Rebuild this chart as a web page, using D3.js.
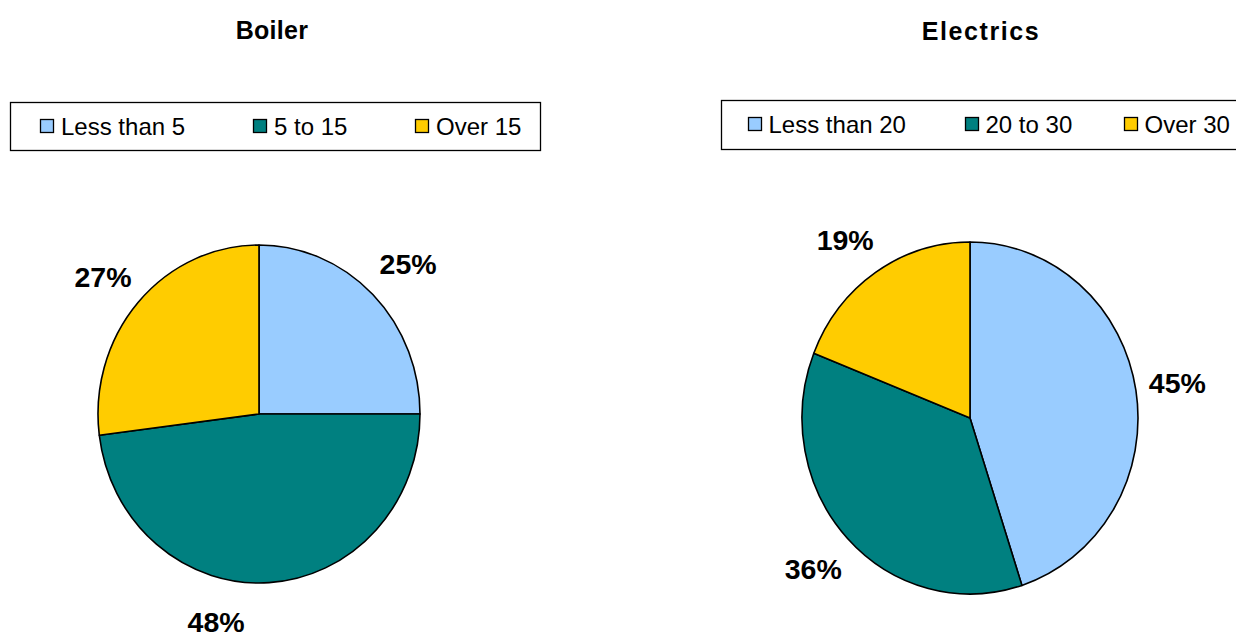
<!DOCTYPE html>
<html>
<head>
<meta charset="utf-8">
<script src="https://cdn.jsdelivr.net/npm/d3@7"></script>
<style>
  html, body { margin: 0; padding: 0; background: #fff; }
  svg { display: block; font-family: "Liberation Sans", Arial, sans-serif; }
</style>
</head>
<body>
<svg id="chart" width="1236" height="637"></svg>
<script>
// Age bands of heating systems (share of homes)
const boilerCategories = ["Less than 5", "5 to 15", "Over 15"];
const boilerValues = [25, 48, 27];

const electricsCategories = ["Less than 20", "20 to 30", "Over 30"];
const electricsValues = [45, 36, 19];

const sliceColors = ["#99CCFF", "#008080", "#FFCC00"];

const svg = d3.select("#chart");

// Layout for each panel
const panels = [
  {
    title: "Boiler", categories: boilerCategories, values: boilerValues,
    titleX: 272, titleY: 39, titleSpacing: 0.3,
    legend: { x: 10.5, y: 102.5, w: 530, h: 48, items: [40, 253, 415], textGap: 21, baseline: 135 },
    cx: 259, cy: 414, rx: 161, ry: 169,
    labelR: 208, labelNudge: [[2, -3], [-56, 0], [0, 0]]
  },
  {
    title: "Electrics", categories: electricsCategories, values: electricsValues,
    titleX: 981, titleY: 40, titleSpacing: 1.6,
    legend: { x: 721.5, y: 100.5, w: 530, h: 49, items: [748, 965, 1124], textGap: 20.5, baseline: 133 },
    cx: 970, cy: 418, rx: 168, ry: 176,
    labelR: 215, labelNudge: [[-5, -2], [0, 4], [-4, 0]]
  }
];

panels.forEach(p => {
  const g = svg.append("g");

  // Title
  g.append("text")
    .attr("x", p.titleX).attr("y", p.titleY)
    .attr("text-anchor", "middle")
    .attr("font-size", 25).attr("font-weight", "bold")
    .attr("letter-spacing", p.titleSpacing)
    .text(p.title);

  // Legend box
  const L = p.legend;
  g.append("rect")
    .attr("x", L.x).attr("y", L.y).attr("width", L.w).attr("height", L.h)
    .attr("fill", "#fff").attr("stroke", "#000").attr("stroke-width", 1.3);

  const color = d3.scaleOrdinal().domain(p.categories).range(sliceColors);
  const items = g.selectAll("g.legend-item")
    .data(p.categories).join("g")
    .attr("class", "legend-item")
    .attr("transform", (d, i) => `translate(${L.items[i]},0)`);
  items.append("rect")
    .attr("x", 0.5).attr("y", L.baseline - 15.5).attr("width", 13).attr("height", 13)
    .attr("fill", d => color(d)).attr("stroke", "#000").attr("stroke-width", 1.3);
  items.append("text")
    .attr("x", L.textGap).attr("y", L.baseline)
    .attr("font-size", 24)
    .text(d => d);

  // Pie, drawn on a unit circle then stretched to the panel's ellipse
  const pie = d3.pie().sort(null).value(d => d.value);
  const arcs = pie(p.categories.map((c, i) => ({ key: c, value: p.values[i] })));
  const arc = d3.arc().innerRadius(0).outerRadius(p.rx);

  const pieG = g.append("g")
    .attr("transform", `translate(${p.cx},${p.cy}) scale(1,${p.ry / p.rx})`);
  pieG.selectAll("path")
    .data(arcs).join("path")
    .attr("d", arc)
    .attr("fill", d => color(d.data.key))
    .attr("stroke", "#000")
    .attr("stroke-width", 1.6)
    .attr("vector-effect", "non-scaling-stroke")
    .attr("stroke-linejoin", "round");

  // Percentage labels outside each slice
  const total = d3.sum(p.values);
  g.selectAll("text.pct")
    .data(arcs).join("text")
    .attr("class", "pct")
    .attr("x", (d, i) => p.cx + p.labelR * Math.sin((d.startAngle + d.endAngle) / 2) + p.labelNudge[i][0])
    .attr("y", (d, i) => p.cy - p.labelR * Math.cos((d.startAngle + d.endAngle) / 2) + p.labelNudge[i][1])
    .attr("dy", "0.36em")
    .attr("text-anchor", "middle")
    .attr("font-size", 28.5).attr("font-weight", "bold")
    .text(d => Math.round(d.data.value / total * 100) + "%");
});
</script>
</body>
</html>
